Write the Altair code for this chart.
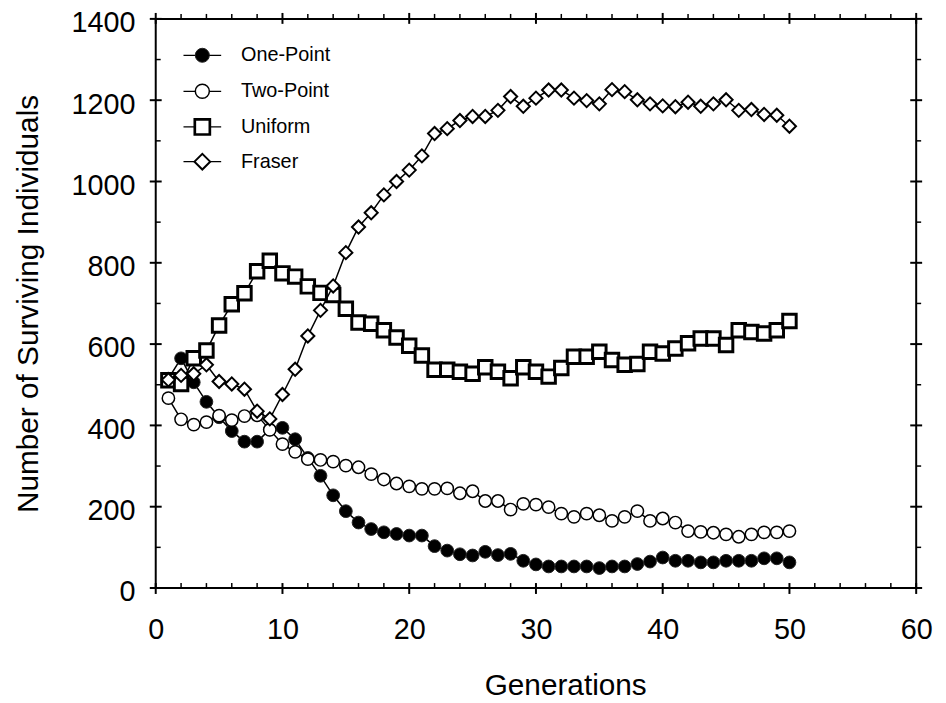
import altair as alt
import pandas as pd

generations = list(range(1, 51))

one_point = [515, 565, 506, 458, 420, 386, 360, 360, 390, 394,
             366, 320, 276, 228, 189, 161, 145, 137, 133, 129,
             129, 103, 92, 83, 80, 89, 81, 84, 67, 58,
             53, 53, 53, 53, 49, 53, 53, 59, 65, 75,
             67, 67, 63, 63, 67, 67, 67, 73, 73, 63]

two_point = [467, 415, 402, 408, 424, 413, 423, 425, 389, 354,
             335, 317, 315, 311, 301, 297, 280, 267, 257, 250,
             244, 244, 245, 233, 238, 214, 214, 193, 207, 205,
             199, 183, 175, 183, 179, 165, 175, 189, 165, 171,
             161, 140, 138, 136, 132, 126, 132, 137, 137, 140]

uniform = [511, 502, 565, 584, 646, 698, 725, 779, 805, 774,
           766, 742, 726, 721, 687, 653, 650, 634, 616, 596,
           572, 537, 537, 532, 527, 543, 532, 516, 543, 532,
           520, 541, 569, 569, 581, 561, 549, 551, 581, 577,
           589, 602, 614, 614, 598, 634, 630, 626, 634, 657]

fraser = [512, 523, 527, 549, 508, 502, 489, 435, 416, 476,
          538, 620, 683, 743, 825, 888, 923, 967, 1000, 1028,
          1063, 1118, 1130, 1150, 1160, 1160, 1175, 1209, 1185, 1205,
          1225, 1225, 1205, 1199, 1191, 1226, 1221, 1201, 1191, 1186,
          1184, 1195, 1185, 1191, 1201, 1175, 1177, 1165, 1163, 1136]

series_names = ["One-Point", "Two-Point", "Uniform", "Fraser"]
series_values = [one_point, two_point, uniform, fraser]

x_major = [0, 10, 20, 30, 40, 50, 60]
x_minor = [v for v in range(2, 60, 2) if v % 10 != 0]
y_major = [0, 200, 400, 600, 800, 1000, 1200, 1400]
y_minor = [100, 300, 500, 700, 900, 1100, 1300]

W, H = 767, 574
FONT = "Liberation Sans"

xscale = alt.Scale(domain=[0, 60], nice=False, zero=False)
yscale = alt.Scale(domain=[0, 1400], nice=False, zero=False)

styles = {
    "One-Point": dict(shape="circle", size=165, fill="black", stroke="#222222", strokeWidth=1),
    "Two-Point": dict(shape="circle", size=155, fill="white", stroke="black", strokeWidth=1.5),
    "Uniform": dict(shape="square", size=185, fill="white", stroke="black", strokeWidth=3),
    "Fraser": dict(shape="diamond", size=175, fill="white", stroke="black", strokeWidth=2),
}
legend_styles = {
    "One-Point": dict(shape="circle", size=200, fill="black", stroke="#222222", strokeWidth=1),
    "Two-Point": dict(shape="circle", size=200, fill="white", stroke="black", strokeWidth=1.5),
    "Uniform": dict(shape="square", size=230, fill="white", stroke="black", strokeWidth=2.7),
    "Fraser": dict(shape="diamond", size=250, fill="white", stroke="black", strokeWidth=2),
}

x_axis = alt.Axis(values=x_major, ticks=False, domain=False, grid=False, format="d",
                  labelFlush=False, labelOverlap=False,
                  labelFontSize=29, labelFont=FONT, labelColor="black", labelPadding=28,
                  title="Generations", titleFontSize=30, titleFont=FONT,
                  titleFontWeight="normal", titleColor="black", titlePadding=26,
                  titleX=413)
y_axis = alt.Axis(values=y_major, ticks=False, domain=False, grid=False, format="d",
                  labelFlush=False, labelOverlap=False, labelOffset=4,
                  labelFontSize=29, labelFont=FONT, labelColor="black", labelPadding=21,
                  title="Number of Surviving Individuals", titleFontSize=30, titleFont=FONT,
                  titleFontWeight="normal", titleColor="black", titlePadding=28)

layers = []
for name, vals in zip(series_names, series_values):
    df = pd.DataFrame({"gen": generations, "value": vals})
    st = styles[name]
    base = alt.Chart(df).encode(
        x=alt.X("gen:Q", scale=xscale, axis=x_axis),
        y=alt.Y("value:Q", scale=yscale, axis=y_axis))
    line = base.mark_line(color="black", strokeWidth=1.5)
    pts = base.mark_point(shape=st["shape"], size=st["size"], filled=True,
                          fill=st["fill"], stroke=st["stroke"],
                          strokeWidth=st["strokeWidth"], opacity=1, fillOpacity=1)
    layers += [line, pts]

# tick marks (crossing majors, short minors)
def xticks(vals, y0, y1, sw):
    return alt.Chart(pd.DataFrame({"t": vals})).mark_rule(color="black", strokeWidth=sw).encode(
        x=alt.X("t:Q", scale=xscale, axis=x_axis), y=alt.value(y0), y2=alt.value(y1))

def yticks(vals, x0, x1, sw):
    return alt.Chart(pd.DataFrame({"t": vals})).mark_rule(color="black", strokeWidth=sw).encode(
        y=alt.Y("t:Q", scale=yscale, axis=y_axis), x=alt.value(x0), x2=alt.value(x1))

layers += [
    xticks(x_major, H - 5, H + 6, 2), xticks(x_minor, H - 5, H, 1.5),
    xticks(x_major, -6, 5, 2), xticks(x_minor, -5, 0, 1.5),
    yticks(y_major, -6, 6, 2), yticks(y_minor, 0, 5, 1.5),
    yticks(y_major, W - 6, W + 6, 2), yticks(y_minor, W, W + 5, 1.5),
]

# legend
legend_rows = [36.7, 73, 109, 144]
one = pd.DataFrame({"a": [0]})
for name, ry in zip(series_names, legend_rows):
    st = legend_styles[name]
    layers.append(alt.Chart(one).mark_rule(color="black", strokeWidth=1.3).encode(
        x=alt.value(28), x2=alt.value(66), y=alt.value(ry)))
    layers.append(alt.Chart(one).mark_point(shape=st["shape"], size=st["size"], filled=True,
                                            fill=st["fill"], stroke=st["stroke"],
                                            strokeWidth=st["strokeWidth"], opacity=1).encode(
        x=alt.value(47), y=alt.value(ry)))
    layers.append(alt.Chart(one).mark_text(align="left", baseline="middle", fontSize=20,
                                           font=FONT, color="black", text=name).encode(
        x=alt.value(86), y=alt.value(ry)))

chart = alt.layer(*layers).properties(
    width=W, height=H,
    autosize=alt.AutoSizeParams(type="none"),
    padding={"left": 149, "top": 8, "right": 22, "bottom": 113},
).configure_view(stroke="black", strokeWidth=2)

chart.save("out.html", embed_options={"renderer": "svg", "actions": False})
